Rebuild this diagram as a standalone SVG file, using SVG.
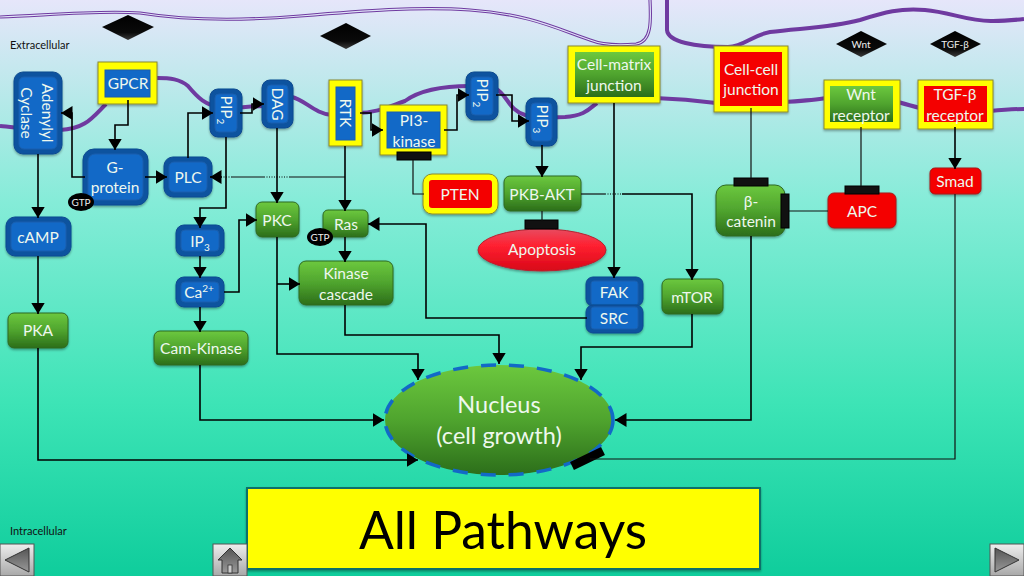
<svg xmlns="http://www.w3.org/2000/svg" width="1024" height="576" viewBox="0 0 1024 576">
<style>
text{font-family:"Lato","Open Sans","Liberation Sans",sans-serif;fill:#eef8ee;text-anchor:middle;font-size:15.5px}
.lab{fill:#111;text-anchor:start;font-size:11px}
.gt{font-size:10px;fill:#eee}
.nt{font-size:23.5px}
.ti{font-size:51.5px;fill:#000}
.c{fill:none;stroke:#000;stroke-width:1.6;marker-end:url(#arr)}
.t{fill:none;stroke:#111;stroke-width:1.2}
.d{fill:none;stroke:#000;stroke-width:1.2;stroke-dasharray:1 1.5}
.bo{fill:#0e539f;stroke:#0c4a90;stroke-width:1;filter:url(#sh)}
.bi{fill:#1269c7;stroke:#1a5fae;stroke-width:1}
.g{fill:url(#gr);stroke:#2e6a22;stroke-width:1;filter:url(#sh)}
.r{fill:#f40000;stroke:#a81818;stroke-width:1;filter:url(#sh)}
.y{fill:#ffff00;stroke:#8a8a30;stroke-width:1;filter:url(#sh)}
.k{fill:url(#dk)}
.b{fill:#111;stroke:#000}
.nav{fill:url(#nv);stroke:#555;stroke-width:1}
.ni{fill:url(#ni);stroke:#333;stroke-width:1}
.m{stroke:#6f3aa0;stroke-width:4}
</style>
<defs>
<linearGradient id="bg" x1="0" y1="0" x2="0" y2="1"><stop offset="0" stop-color="#e6e6fa"/><stop offset=".35" stop-color="#85ecd8"/><stop offset=".7" stop-color="#3de4b6"/><stop offset="1" stop-color="#0fcd9c"/></linearGradient>
<linearGradient id="gr" x1="0" y1="0" x2="0" y2="1"><stop offset="0" stop-color="#6cc83e"/><stop offset=".5" stop-color="#4fa42e"/><stop offset="1" stop-color="#2c6e1a"/></linearGradient>
<linearGradient id="re" x1="0" y1="0" x2="0" y2="1"><stop offset="0" stop-color="#e84a60"/><stop offset=".4" stop-color="#ff2030"/><stop offset="1" stop-color="#d80818"/></linearGradient>
<linearGradient id="dk" x1="0" y1="0" x2="0" y2="1"><stop offset="0" stop-color="#000"/><stop offset=".7" stop-color="#0a0a0a"/><stop offset="1" stop-color="#3a3a3a"/></linearGradient>
<linearGradient id="nv" x1="0" y1="0" x2="0" y2="1"><stop offset="0" stop-color="#eeeeee"/><stop offset="1" stop-color="#a8a8a8"/></linearGradient>
<linearGradient id="ni" x1="0" y1="0" x2="0" y2="1"><stop offset="0" stop-color="#555"/><stop offset="1" stop-color="#999"/></linearGradient>
<filter id="sh" x="-20%" y="-20%" width="140%" height="140%"><feDropShadow dx="0" dy="1.5" stdDeviation="1.2" flood-color="#000" flood-opacity=".35"/></filter>
<marker id="arr" markerUnits="userSpaceOnUse" markerWidth="13" markerHeight="15" refX="11.5" refY="7" orient="auto"><path d="M0 0L11.5 7L0 14Z" fill="#000"/></marker>
</defs>
<rect width="1024" height="576" fill="url(#bg)"/>
<g id="membrane" fill="none">
<path d="M0 17C50 15 100 10 140 13C190 21 240 21 300 16C360 11 420 6 470 10C530 14 560 30 590 40C605 46 625 45 636 44C652 42 651 20 650 0" stroke="#6f3aa0" stroke-width="3.2"/>
<path d="M0 17C50 15 100 10 140 13C190 21 240 21 300 16C360 11 420 6 470 10C530 14 560 30 590 40C605 46 625 45 636 44C652 42 651 20 650 0" stroke="#e0e4f8" stroke-width="1.2"/>
<path class="m" d="M667 0V30C668 42 695 47 728 47C745 46 750 36 770 32C800 28 830 28 860 20C885 12 900 8 925 10C950 12 970 22 993 21C1005 21 1015 20 1024 19"/>
<path class="m" d="M0 126C15 127 35 131 60 130C85 129 92 118 106 104M157 78C170 78 180 79 188 86C198 98 205 105 222 108C235 109 250 106 264 106M292 97C305 100 315 114 332 115M358 113C375 113 385 108 405 101C420 90 445 86 470 86M495 88C508 95 508 110 525 115C540 119 555 117 565 117C585 116 590 108 597 103M655 98C680 99 700 101 716 103M786 102C800 101 815 100 826 98M898 102C905 104 912 106 920 108M990 111C1000 110 1012 109 1024 109"/>
</g>
<text class="lab" x="10" y="49">Extracellular</text>
<text class="lab" x="10" y="535">Intracellular</text>
<g id="ligand1"><path class="k" d="M102 27L128 15L154 27L128 40Z"/></g>
<g id="ligand2"><path class="k" d="M320 36L346 23L371 36L346 49Z"/></g>
<g id="wnt"><path class="k" d="M836 44L861 31L887 44L861 57Z"/><text class="gt" x="861" y="48">Wnt</text></g>
<g id="tgfb"><path class="k" d="M930 44L955 31L981 44L955 57Z"/><text class="gt" x="955" y="48">TGF-β</text></g>
<g id="adenylyl"><rect class="bo" x="14" y="72" width="48" height="82" rx="9"/><rect class="bi" x="19" y="77" width="38" height="72" rx="5"/><text transform="translate(42,113) rotate(90)">Adenylyl</text><text transform="translate(21,113) rotate(90)">Cyclase</text></g>
<g id="gpcr"><rect class="y" x="98" y="62" width="59" height="42"/><rect class="bi" x="105" y="70" width="45" height="27"/><text x="128" y="89">GPCR</text></g>
<g id="gprotein"><rect class="bo" x="83" y="149" width="65" height="56" rx="11"/><rect class="bi" x="88" y="154" width="55" height="46" rx="7"/><text x="115" y="173">G-</text><text x="115" y="193">protein</text></g>
<g id="gtp1"><ellipse fill="#000" cx="81" cy="202" rx="13" ry="9"/><text class="gt" x="81" y="206">GTP</text></g>
<g id="plc"><rect class="bo" x="164" y="157" width="48" height="40" rx="9"/><rect class="bi" x="169" y="162" width="38" height="30" rx="5"/><text x="188" y="183">PLC</text></g>
<g id="pip2a"><rect class="bo" x="210" y="89" width="32" height="48" rx="8"/><rect class="bi" x="215" y="94" width="22" height="38" rx="4"/><text transform="translate(221,110) rotate(90)">PIP<tspan font-size="10" dy="4">2</tspan></text></g>
<g id="dag"><rect class="bo" x="262" y="80" width="31" height="48" rx="8"/><rect class="bi" x="267" y="85" width="21" height="38" rx="4"/><text transform="translate(272,104) rotate(90)">DAG</text></g>
<g id="rtk"><rect class="y" x="329" y="80" width="33" height="66"/><rect class="bi" x="336" y="87" width="19" height="53"/><text transform="translate(340,113) rotate(90)">RTK</text></g>
<g id="pi3k"><rect class="y" x="380" y="105" width="67" height="50"/><rect class="bi" x="387" y="112" width="53" height="36"/><text x="414" y="126">PI3-</text><text x="414" y="147">kinase</text><rect class="b" x="397" y="152" width="34" height="8"/></g>
<g id="pip2b"><rect class="bo" x="466" y="72" width="32" height="48" rx="8"/><rect class="bi" x="471" y="77" width="22" height="38" rx="4"/><text transform="translate(477,93) rotate(90)">PIP<tspan font-size="10" dy="4">2</tspan></text></g>
<g id="pip3"><rect class="bo" x="526" y="98" width="31" height="48" rx="8"/><rect class="bi" x="531" y="103" width="21" height="38" rx="4"/><text transform="translate(537,119) rotate(90)">PIP<tspan font-size="10" dy="4">3</tspan></text></g>
<g id="cellmatrix"><rect class="y" x="568" y="46" width="92" height="57"/><rect fill="url(#gr)" x="575" y="52" width="79" height="45"/><text x="614" y="70">Cell-matrix</text><text x="614" y="91">junction</text></g>
<g id="cellcell"><rect class="y" x="714" y="46" width="74" height="66"/><rect fill="#f40000" x="720" y="52" width="62" height="54"/><text x="751" y="75">Cell-cell</text><text x="751" y="95">junction</text></g>
<g id="wntr"><rect class="y" x="824" y="80" width="76" height="49"/><rect fill="url(#gr)" x="830" y="86" width="63" height="36"/><text x="861" y="100">Wnt</text><text x="861" y="121">receptor</text></g>
<g id="tgfr"><rect class="y" x="918" y="80" width="75" height="49"/><rect fill="#f40000" x="924" y="86" width="63" height="36"/><text x="955" y="100">TGF-β</text><text x="955" y="121">receptor</text></g>
<g id="pten"><rect class="y" x="423" y="174" width="75" height="40" rx="9"/><rect fill="#f40000" x="429" y="180" width="63" height="28" rx="3"/><text x="460" y="200">PTEN</text></g>
<g id="pkb"><rect class="g" x="504" y="176" width="77" height="35" rx="6"/><text x="542" y="200">PKB-AKT</text></g>
<g id="apoptosis"><ellipse cx="542" cy="250" rx="64" ry="21" fill="url(#re)" stroke="#b82030" filter="url(#sh)"/><text x="542" y="255">Apoptosis</text><rect class="b" x="525" y="220" width="33" height="9"/></g>
<g id="catenin"><rect class="g" x="716" y="185" width="69" height="51" rx="10"/><text x="751" y="207">β-</text><text x="751" y="227">catenin</text><rect class="b" x="734" y="178" width="34" height="8"/><rect class="b" x="781" y="194" width="8" height="34"/></g>
<g id="apc"><rect class="r" x="828" y="193" width="68" height="35" rx="6"/><text x="862" y="217">APC</text><rect class="b" x="845" y="186" width="34" height="8"/></g>
<g id="smad"><rect class="r" x="930" y="168" width="51" height="26" rx="5"/><text x="955" y="187">Smad</text></g>
<g id="camp"><rect class="bo" x="6" y="217" width="65" height="39" rx="9"/><rect class="bi" x="11" y="222" width="55" height="29" rx="5"/><text x="38" y="243">cAMP</text></g>
<g id="pka"><rect class="g" x="8" y="313" width="60" height="35" rx="6"/><text x="38" y="336">PKA</text></g>
<g id="ip3"><rect class="bo" x="176" y="225" width="48" height="31" rx="8"/><rect class="bi" x="181" y="230" width="38" height="21" rx="4"/><text x="200" y="247">IP<tspan font-size="10" dy="4">3</tspan></text></g>
<g id="ca"><rect class="bo" x="176" y="277" width="48" height="30" rx="8"/><rect class="bi" x="181" y="282" width="38" height="20" rx="4"/><text x="199" y="298">Ca<tspan font-size="10" dy="-6">2+</tspan></text></g>
<g id="camk"><rect class="g" x="154" y="331" width="94" height="34" rx="6"/><text x="201" y="354">Cam-Kinase</text></g>
<g id="pkc"><rect class="g" x="256" y="202" width="43" height="35" rx="6"/><text x="277" y="226">PKC</text></g>
<g id="ras"><rect class="g" x="323" y="210" width="45" height="27" rx="5"/><text x="346" y="230">Ras</text></g>
<g id="gtp2"><ellipse fill="#000" cx="320" cy="237" rx="13" ry="9"/><text class="gt" x="320" y="241">GTP</text></g>
<g id="kinase"><rect class="g" x="299" y="261" width="94" height="44" rx="7"/><text x="346" y="279">Kinase</text><text x="346" y="300">cascade</text></g>
<g id="fak"><rect class="bo" x="586" y="277" width="57" height="29" rx="7"/><rect class="bi" x="591" y="281" width="47" height="24" rx="3"/><text x="614" y="298">FAK</text></g>
<g id="src"><rect class="bo" x="586" y="305" width="57" height="28" rx="7"/><rect class="bi" x="591" y="307" width="47" height="22" rx="3"/><text x="614" y="324">SRC</text></g>
<g id="mtor"><rect class="g" x="662" y="279" width="61" height="35" rx="6"/><text x="692" y="303">mTOR</text></g>
<g id="nucleus"><ellipse cx="499" cy="420" rx="114" ry="55" fill="url(#gr)" stroke="#1269c7" stroke-width="3.5" stroke-dasharray="15 13"/><text class="nt" x="499" y="413">Nucleus</text><text class="nt" x="499" y="444">(cell growth)</text><path d="M572 466L603 451" stroke="#000" stroke-width="9" fill="none"/></g>
<g id="connectors">
<path class="c" d="M128 100V125H115V150"/>
<path class="c" d="M85 177H72V113H61"/>
<path class="c" d="M145 177H167"/>
<path class="c" d="M188 158V113H213"/>
<path class="c" d="M240 113H252V104H264"/>
<path class="c" d="M226 137V208H200V228"/>
<path class="c" d="M277 128V203"/>
<path class="t" d="M345 177H290"/>
<path class="d" d="M290 177H265"/>
<path class="t" d="M265 177H232"/>
<path class="d" d="M232 177H222"/>
<path class="c" d="M222 177H210"/>
<path class="c" d="M345 146V211"/>
<path class="c" d="M360 113H371V130H383"/>
<path class="c" d="M444 130H457V95H469"/>
<path class="c" d="M496 95H512V121H529"/>
<path class="c" d="M542 145V177"/>
<path class="t" d="M413 160V194H424"/>
<path class="t" d="M542 211V222"/>
<path class="t" d="M581 194H605"/>
<path class="d" d="M605 194H622"/>
<path class="c" d="M622 194H692V280"/>
<path class="c" d="M614 103V278"/>
<path class="t" d="M751 108V178"/>
<path class="t" d="M861 127V186"/>
<path class="c" d="M955 127V169"/>
<path class="t" d="M828 211H789"/>
<path class="t" d="M955 194V459H590"/>
<path class="c" d="M751 236V420H615"/>
<path class="c" d="M692 314V347H581V380"/>
<path class="c" d="M345 305V335H499V364"/>
<path class="c" d="M277 237V354H418V380"/>
<path class="c" d="M277 284H300"/>
<path class="c" d="M224 292H239V220H257"/>
<path class="c" d="M345 237V262"/>
<path class="c" d="M587 318H426V224H368"/>
<path class="c" d="M200 365V420H384"/>
<path class="c" d="M38 348V460H418"/>
<path class="c" d="M38 256V314"/>
<path class="c" d="M38 154V218"/>
<path class="c" d="M200 256V278"/>
<path class="c" d="M200 307V332"/>
</g>
<g id="title"><rect x="247" y="488" width="513" height="81" fill="#ffff00" stroke="#0f6f6a" stroke-width="2" filter="url(#sh)"/><text class="ti" x="503" y="549">All Pathways</text></g>
<g id="nav-back"><rect class="nav" x="0" y="544" width="34" height="32"/><path class="ni" d="M5 560L29 548V572Z"/></g>
<g id="nav-home"><rect class="nav" x="213" y="544" width="34" height="32"/><path class="ni" d="M218 560L230 548L242 560H238V573H222V560Z"/><rect x="228" y="565" width="4" height="8" fill="#ccc" stroke="#333" stroke-width=".8"/></g>
<g id="nav-next"><rect class="nav" x="990" y="544" width="34" height="32"/><path class="ni" d="M995 548L1019 560L995 572Z"/></g>
</svg>
